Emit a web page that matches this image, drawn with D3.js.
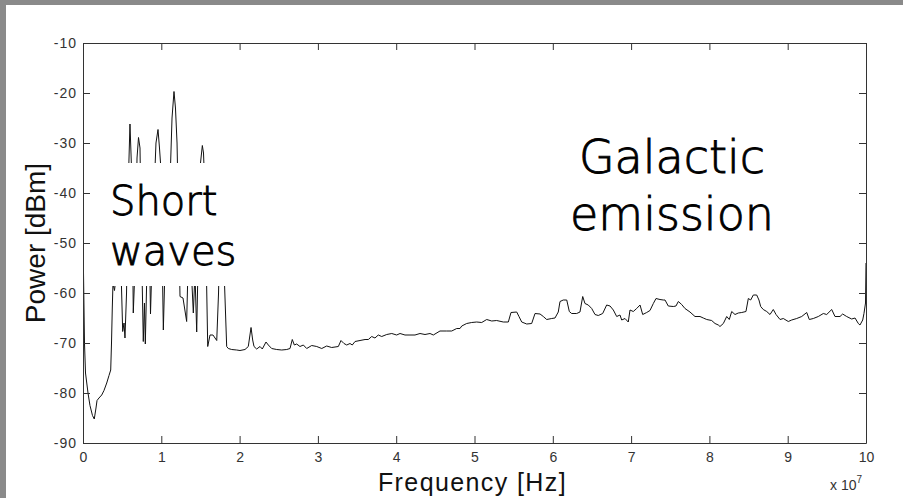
<!DOCTYPE html>
<html>
<head>
<meta charset="utf-8">
<script src="https://cdn.jsdelivr.net/npm/d3@7"></script>
<style>
body { margin: 0; background: #8a8a8a; }
svg { display: block; }
</style>
</head>
<body>
<div id="chart-area"></div>
<script>
// frequency in MHz (axis shows x 10^7 Hz)
var freqMHz = [
  0.06, 0.19, 0.32, 0.64, 0.89, 1.21, 1.44, 1.66, 1.79, 2.04, 2.39, 2.68, 3.03, 3.32, 3.54, 3.64,
  3.74, 3.83, 4.02, 4.21, 4.41, 4.60, 4.85, 5.07, 5.24, 5.36, 5.56, 5.75, 6.00, 6.13, 6.26, 6.42,
  6.64, 6.90, 7.09, 7.28, 7.41, 7.70, 7.85, 7.96, 8.17, 8.43, 8.62, 8.88, 9.07, 9.32, 9.58, 9.77,
  9.90, 10.09, 10.26, 10.47, 10.86, 11.11, 11.37, 11.62, 11.81, 12.01, 12.20, 12.39, 12.77, 13.24,
  13.41, 13.67, 14.09, 14.30, 14.52, 14.75, 14.94, 15.24, 15.39, 15.58, 15.93, 16.22, 16.60, 17.08,
  17.31, 17.50, 17.88, 18.07, 18.35,
  18.56, 18.99, 19.63, 20.05, 20.69, 21.11, 21.46, 21.67, 21.84, 22.18, 22.61, 22.90, 23.37, 23.67,
  24.10, 24.74, 25.38, 26.02, 26.44, 26.73, 26.99, 27.29, 27.71, 28.14, 28.57, 29.21, 29.85, 30.49,
  31.12, 31.76, 32.61, 32.95, 33.33, 33.68, 34.10, 34.39, 34.74, 35.38, 36.02, 36.44, 36.87, 37.29,
  37.71, 38.15, 38.79, 39.43, 40.06, 40.49, 41.12, 41.76, 42.40, 43.04, 43.68, 44.32, 44.74, 45.59,
  46.45, 47.09, 47.73, 48.15, 48.37, 49.00, 49.64, 50.28, 50.92, 51.56, 52.20, 52.83, 53.68, 54.32,
  54.66, 55.39, 55.68, 56.03, 56.67, 57.30, 57.73, 58.37, 58.79, 59.22, 59.86, 60.28, 60.70, 60.92,
  61.34, 61.78, 62.11, 62.41, 63.05, 63.47, 63.82, 64.11, 64.53, 64.97, 65.39, 65.81, 66.37, 66.88,
  67.31, 67.73, 68.16, 68.58, 68.80, 69.22, 69.64, 69.86, 70.28, 70.71, 71.14, 71.48, 71.99, 72.41,
  72.84, 73.18, 73.69, 74.11, 74.33, 74.75, 75.39, 75.73, 76.03, 76.46, 76.88, 77.52, 78.16, 78.80,
  79.22, 79.66, 80.29, 80.72, 81.14, 81.35, 81.78, 82.21, 82.54, 82.85, 83.27, 83.69, 84.13, 84.67,
  84.97, 85.27, 85.61, 86.04, 86.33, 86.55, 86.88, 87.32, 87.74, 88.16, 88.51, 89.02, 89.44, 90.08,
  90.51, 91.15, 91.79, 92.43, 92.76, 93.27, 93.91, 94.55, 94.98, 95.62, 96.04, 96.68, 97.02, 97.53,
  98.17, 98.60, 99.02, 99.23, 99.58, 99.74, 99.94, 100
];
var powerDbm = [
  -55.5, -70, -76, -80, -82.5, -84.5, -85.2, -83, -81.5, -81, -80.4, -79.5, -78, -76.5, -75.4, -70,
  -63, -58, -59.5, -57, -52, -48, -55, -67.7, -66, -69, -60, -40, -26.2, -32, -38, -64,
  -55, -33, -28.9, -31, -45, -69.7, -62, -70.2, -55, -45, -64.2, -50, -40, -30, -27.3, -31,
  -34, -50, -67.4, -55, -42, -38, -25, -19.7, -23, -30, -45, -60.7, -61, -65.7,
  -55, -50, -64, -56, -67.8, -50, -35, -30.5, -32, -40, -70.7, -68.4, -68.4, -69.5,
  -60, -45, -50, -58, -70.7,
  -71.1, -71.3, -71.4, -71.5, -71.3, -70.7, -66.9, -69.4, -70.7, -71.2, -70.7, -71.2, -69.8, -70.4,
  -71.1, -71.3, -71.4, -71.3, -71.1, -69.3, -70.4, -70.2, -70.7, -70.4, -71.1, -70.5, -70.7, -71.1,
  -70.6, -70.9, -70.7, -69.5, -70.1, -70.4, -70.1, -70.4, -69.7, -69.5, -69.3, -69.3, -68.7, -69.0,
  -68.4, -68.7, -68.3, -68.1, -68.4, -68.1, -68.4, -68.4, -68.4, -68.1, -68.3, -68.1, -68.4, -67.6,
  -67.6, -67.6, -67.1, -67.1, -66.6, -66.1, -65.9, -65.8, -65.9, -65.3, -65.6, -65.5, -65.8, -65.8,
  -63.9, -63.8, -64.7, -65.8, -66.2, -66.1, -64.1, -64.2, -64.7, -65.3, -65.1, -65.0, -63.8, -61.7,
  -61.4, -61.4, -63.7, -64.1, -64.1, -63.8, -60.7, -62.1, -62.4, -63.1, -64.3, -64.5, -64.1, -62.4,
  -62.6, -63.4, -64.7, -64.4, -65.4, -65.1, -65.8, -63.4, -63.7, -63.1, -62.4, -64.3, -63.9, -63.5,
  -62.1, -61.1, -61.3, -61.4, -61.4, -62.6, -62.7, -62.6, -61.7, -62.3, -63.1, -63.8, -64.7, -64.7,
  -65.0, -65.3, -65.5, -66.1, -66.4, -66.7, -66.1, -64.7, -65.3, -63.7, -64.3, -64.0, -63.9, -63.7,
  -61.1, -61.4, -60.4, -60.4, -61.4, -62.7, -63.3, -63.7, -64.3, -63.3, -64.3, -65.3, -65.1, -65.7,
  -65.4, -65.1, -64.7, -63.9, -65.3, -65.1, -64.7, -64.1, -64.3, -63.3, -64.7, -64.7, -64.2, -64.7,
  -65.2, -65.0, -66.1, -66.4, -65.4, -64.1, -62, -54
];
var xTicks = [0, 10, 20, 30, 40, 50, 60, 70, 80, 90, 100];
var xTickLabels = ["0", "1", "2", "3", "4", "5", "6", "7", "8", "9", "10"];
var yTicks = [-10, -20, -30, -40, -50, -60, -70, -80, -90];
var yTickLabels = ["-10", "-20", "-30", "-40", "-50", "-60", "-70", "-80", "-90"];

var margin = {top: 43, right: 37, bottom: 55, left: 83};
var W = 903, H = 498;
var width = W - margin.left - margin.right;
var height = H - margin.top - margin.bottom;

var svg = d3.select("#chart-area")
  .append("svg")
  .attr("width", W)
  .attr("height", H);

// gray backdrop and white slide
svg.append("rect").attr("width", W).attr("height", H).attr("fill", "#8a8a8a");
svg.append("rect").attr("x", 6).attr("y", 5).attr("width", W - 6).attr("height", H - 5).attr("fill", "#fff");

var g = svg.append("g")
  .attr("transform", "translate(" + margin.left + "," + margin.top + ")");

var x = d3.scaleLinear().domain([0, 100]).range([0, width]);
var y = d3.scaleLinear().domain([-90, -10]).range([height, 0]);

g.append("clipPath").attr("id", "plot-clip")
  .append("rect").attr("width", width).attr("height", height);

var data = freqMHz.map(function(f, i) { return {f: f, p: powerDbm[i]}; });

var line = d3.line()
  .x(function(d) { return x(d.f); })
  .y(function(d) { return y(d.p); });

g.append("path")
  .datum(data)
  .attr("clip-path", "url(#plot-clip)")
  .attr("fill", "none")
  .attr("stroke", "#111")
  .attr("stroke-width", 1)
  .attr("d", line);

// axes, ticks pointing inward on all four sides
var tickCol = "#333";
function styleAxis(sel) {
  sel.selectAll("path").attr("stroke", tickCol);
  sel.selectAll("line").attr("stroke", tickCol);
  sel.selectAll("text")
    .attr("fill", "#333")
    .style("font-family", "'Liberation Sans', Arial, sans-serif")
    .style("font-size", "14px");
}

var xAxisB = g.append("g")
  .attr("transform", "translate(0," + height + ")")
  .call(d3.axisBottom(x).tickValues(xTicks).tickSizeInner(-7).tickSizeOuter(0).tickPadding(9)
    .tickFormat(function(d, i) { return xTickLabels[i]; }));
styleAxis(xAxisB);

var xAxisT = g.append("g")
  .call(d3.axisTop(x).tickValues(xTicks).tickSizeInner(-7).tickSizeOuter(0).tickFormat(""));
styleAxis(xAxisT);

var yAxisL = g.append("g")
  .call(d3.axisLeft(y).tickValues(yTicks).tickSizeInner(-7).tickSizeOuter(0).tickPadding(6)
    .tickFormat(function(d, i) { return yTickLabels[i]; }));
styleAxis(yAxisL);
yAxisL.selectAll("text").style("letter-spacing", "1px");

var yAxisR = g.append("g")
  .attr("transform", "translate(" + width + ",0)")
  .call(d3.axisRight(y).tickValues(yTicks).tickSizeInner(-7).tickSizeOuter(0).tickFormat(""));
styleAxis(yAxisR);

// axis labels
g.append("text")
  .attr("x", width / 2 - 2)
  .attr("y", height + 48)
  .attr("text-anchor", "middle")
  .style("font-family", "'Liberation Sans', Arial, sans-serif")
  .style("font-size", "25px")
  .style("letter-spacing", "1.4px")
  .attr("fill", "#111")
  .text("Frequency [Hz]");

g.append("text")
  .attr("transform", "rotate(-90)")
  .attr("x", -height / 2)
  .attr("y", -38)
  .attr("text-anchor", "middle")
  .style("font-family", "'Liberation Sans', Arial, sans-serif")
  .style("font-size", "28px")
  .attr("fill", "#111")
  .text("Power [dBm]");

var expo = g.append("text")
  .attr("x", width - 36)
  .attr("y", height + 47)
  .style("font-family", "'Liberation Sans', Arial, sans-serif")
  .style("font-size", "14px")
  .attr("fill", "#333");
expo.append("tspan").text("x 10");
expo.append("tspan").attr("dy", -7).style("font-size", "10px").text("7");

// annotations
svg.append("rect")
  .attr("x", 100).attr("y", 163).attr("width", 145).attr("height", 123)
  .attr("fill", "#fff");

var annFont = "'DejaVu Sans', sans-serif";
function note(tx, ty, size, anchor, label) {
  svg.append("text").attr("x", tx).attr("y", ty).attr("text-anchor", anchor)
    .style("font-family", annFont).style("font-weight", "200")
    .style("font-size", size + "px").attr("fill", "#000")
    .attr("stroke", "#000").attr("stroke-width", 0.9)
    .text(label);
}
note(110, 215, 40, "start", "Short");
note(110, 265, 40, "start", "waves");
note(672, 173, 46, "middle", "Galactic");
note(672, 230, 46, "middle", "emission");
</script>
</body>
</html>
